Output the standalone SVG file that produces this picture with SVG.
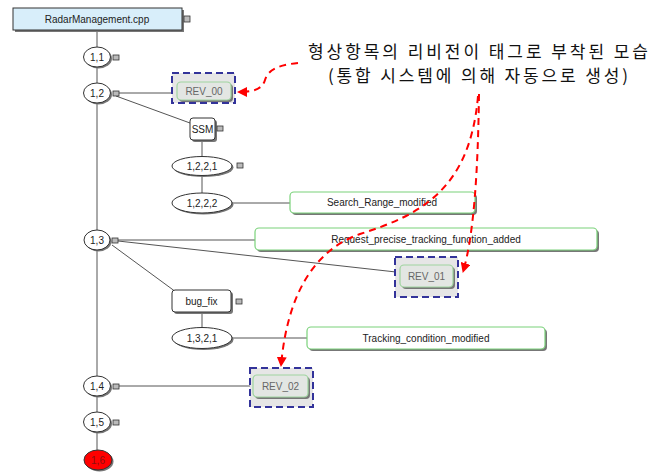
<svg xmlns="http://www.w3.org/2000/svg" width="665" height="474" viewBox="0 0 665 474">
<defs>
<marker id="redArrow" viewBox="0 0 10 10" refX="9" refY="5" markerWidth="5" markerHeight="5" orient="auto" markerUnits="strokeWidth">
<path d="M0,0 L10,5 L0,10 z" fill="#ff0000"/>
</marker>
</defs>
<style>
.t{font-family:"Liberation Sans",Arial,sans-serif;font-size:10px;fill:#222;text-anchor:middle}
.rev{font-family:"Liberation Sans",Arial,sans-serif;font-size:10px;fill:#666;text-anchor:middle}
.kr{font-family:"Noto Sans CJK KR","Noto Sans",sans-serif;font-size:17px;fill:#111;text-anchor:middle}
.ver{fill:#fff;stroke:#333;stroke-width:1}
.sh{fill:#777}
.box{fill:#fff;stroke:#333;stroke-width:1}
.green{fill:#fff;stroke:#7ad27a;stroke-width:1.2}
.dash{fill:#e6e6e6;stroke:#33339a;stroke-width:2;stroke-dasharray:7,4}
.revin{fill:#e3e6e3;stroke:#9fd49f;stroke-width:1.2}
.ic{fill:#bbb;stroke:#333;stroke-width:0.8}
.conn{stroke:#555;stroke-width:1;fill:none}
.red{stroke:#ff0000;stroke-width:2;stroke-dasharray:7,5;fill:none}
</style>
<rect width="665" height="474" fill="#fff"/>

<g id="connectors">
<line class="conn" x1="97" y1="30" x2="97" y2="452"/>
<line class="conn" x1="118" y1="93" x2="177" y2="93"/>
<line class="conn" x1="116" y1="96" x2="190" y2="123"/>
<line class="conn" x1="202" y1="140" x2="202" y2="157"/>
<line class="conn" x1="202" y1="174" x2="202" y2="194"/>
<line class="conn" x1="232" y1="203" x2="290" y2="203"/>
<line class="conn" x1="118" y1="240" x2="255" y2="240"/>
<line class="conn" x1="118" y1="241" x2="396" y2="272"/>
<line class="conn" x1="112" y1="245" x2="176" y2="292"/>
<line class="conn" x1="202" y1="312" x2="202" y2="328"/>
<line class="conn" x1="232" y1="338" x2="307" y2="338"/>
<line class="conn" x1="118" y1="386" x2="253" y2="386"/>
</g>

<g id="root">
<rect class="sh" x="15" y="10" width="169" height="22"/>
<rect x="13" y="8" width="169" height="22" fill="#d8eefa" stroke="#333"/>
<text class="t" x="97" y="23">RadarManagement.cpp</text>
<rect class="ic" x="184" y="16" width="6" height="6"/>
</g>

<g id="v1_1">
<ellipse class="sh" cx="98.5" cy="58.5" rx="13.5" ry="10"/>
<ellipse class="ver" cx="97" cy="57" rx="13.5" ry="10"/>
<text class="t" x="97" y="61">1,1</text>
<rect class="ic" x="113" y="55" width="6" height="5"/>
</g>

<g id="v1_2">
<ellipse class="sh" cx="98.5" cy="94.5" rx="13.5" ry="10"/>
<ellipse class="ver" cx="97" cy="93" rx="13.5" ry="10"/>
<text class="t" x="97" y="97">1,2</text>
<rect class="ic" x="113" y="91" width="6" height="5"/>
</g>

<g id="rev00">
<rect class="dash" x="172" y="73" width="63" height="30"/>
<rect class="sh" x="179" y="84" width="54" height="18" rx="4"/>
<rect class="revin" x="177" y="82" width="54" height="18" rx="4"/>
<text class="rev" x="204" y="95">REV_00</text>
</g>

<g id="ssm">
<rect class="sh" x="192" y="120" width="25" height="22" rx="3"/>
<rect class="box" x="190" y="118" width="25" height="22" rx="3"/>
<text class="t" x="202.5" y="133">SSM</text>
<rect class="ic" x="217" y="126" width="6" height="5"/>
</g>

<g id="v1_2_2_1">
<ellipse class="sh" cx="203.5" cy="167.5" rx="30" ry="9.5"/>
<ellipse class="ver" cx="202" cy="166" rx="30" ry="9.5"/>
<text class="t" x="202" y="170">1,2,2,1</text>
<rect class="ic" x="237" y="163" width="6" height="5"/>
</g>

<g id="v1_2_2_2">
<ellipse class="sh" cx="203.5" cy="204.5" rx="30" ry="10"/>
<ellipse class="ver" cx="202" cy="203" rx="30" ry="10"/>
<text class="t" x="202" y="207">1,2,2,2</text>
</g>

<g id="search">
<rect class="sh" x="292" y="194" width="185" height="21" rx="4"/>
<rect class="green" x="290" y="192" width="185" height="21" rx="4"/>
<text class="t" x="382" y="206">Search_Range_modified</text>
</g>

<g id="v1_3">
<ellipse class="sh" cx="98.5" cy="241.5" rx="13" ry="10"/>
<ellipse class="ver" cx="97" cy="240" rx="13" ry="10"/>
<text class="t" x="97" y="244">1,3</text>
<rect class="ic" x="112" y="238" width="6" height="5"/>
</g>

<g id="request">
<rect class="sh" x="257" y="230" width="342" height="22" rx="4"/>
<rect class="green" x="255" y="228" width="342" height="22" rx="4"/>
<text class="t" x="426" y="243">Request_precise_tracking_function_added</text>
</g>

<g id="rev01">
<rect class="dash" x="395" y="257" width="63" height="40"/>
<rect class="sh" x="402" y="267" width="53" height="22" rx="4"/>
<rect class="revin" x="400" y="265" width="53" height="22" rx="4"/>
<text class="rev" x="426.5" y="280">REV_01</text>
</g>

<g id="bugfix">
<rect class="sh" x="174" y="292" width="59" height="22" rx="3"/>
<rect class="box" x="172" y="290" width="59" height="22" rx="3"/>
<text class="t" x="201.5" y="305">bug_fix</text>
<rect class="ic" x="236" y="299" width="6" height="5"/>
</g>

<g id="v1_3_2_1">
<ellipse class="sh" cx="203.5" cy="339.5" rx="30" ry="10.5"/>
<ellipse class="ver" cx="202" cy="338" rx="30" ry="10.5"/>
<text class="t" x="202" y="342">1,3,2,1</text>
</g>

<g id="tracking">
<rect class="sh" x="309" y="329" width="238" height="22" rx="4"/>
<rect class="green" x="307" y="327" width="238" height="22" rx="4"/>
<text class="t" x="426" y="342">Tracking_condition_modified</text>
</g>

<g id="v1_4">
<ellipse class="sh" cx="98.5" cy="387.5" rx="13.5" ry="10"/>
<ellipse class="ver" cx="97" cy="386" rx="13.5" ry="10"/>
<text class="t" x="97" y="390">1,4</text>
<rect class="ic" x="113" y="384" width="6" height="5"/>
</g>

<g id="rev02">
<rect class="dash" x="250" y="368" width="63" height="39"/>
<rect class="sh" x="255" y="377" width="55" height="22" rx="4"/>
<rect class="revin" x="253" y="375" width="55" height="22" rx="4"/>
<text class="rev" x="280.5" y="390">REV_02</text>
</g>

<g id="v1_5">
<ellipse class="sh" cx="98.5" cy="423.5" rx="13.5" ry="10"/>
<ellipse class="ver" cx="97" cy="422" rx="13.5" ry="10"/>
<text class="t" x="97" y="426">1,5</text>
<rect class="ic" x="113" y="420" width="6" height="5"/>
</g>

<g id="v1_6">
<ellipse class="sh" cx="99.5" cy="461.5" rx="14" ry="10"/>
<ellipse cx="98" cy="460" rx="14" ry="10" fill="#ff0000" stroke="#333"/>
<text class="t" x="98" y="464" style="fill:#8a1010">1,6</text>
</g>

<g id="annotation">
<text class="kr" x="478" y="58" textLength="340" lengthAdjust="spacing">형상항목의 리비전이 태그로 부착된 모습</text>
<text class="kr" x="478" y="82" textLength="300" lengthAdjust="spacing">(통합 시스템에 의해 자동으로 생성)</text>
</g>

<g id="callouts">
<path class="red" d="M298,63 C278,65 268,70 265,80 C262,90 252,92 238,92" marker-end="url(#redArrow)"/>
<path class="red" d="M479,94 C478,170 474,235 463,272" marker-end="url(#redArrow)"/>
<path class="red" d="M478,96 C470,190 420,215 360,234 C300,255 285,320 281,366" marker-end="url(#redArrow)"/>
</g>
</svg>
